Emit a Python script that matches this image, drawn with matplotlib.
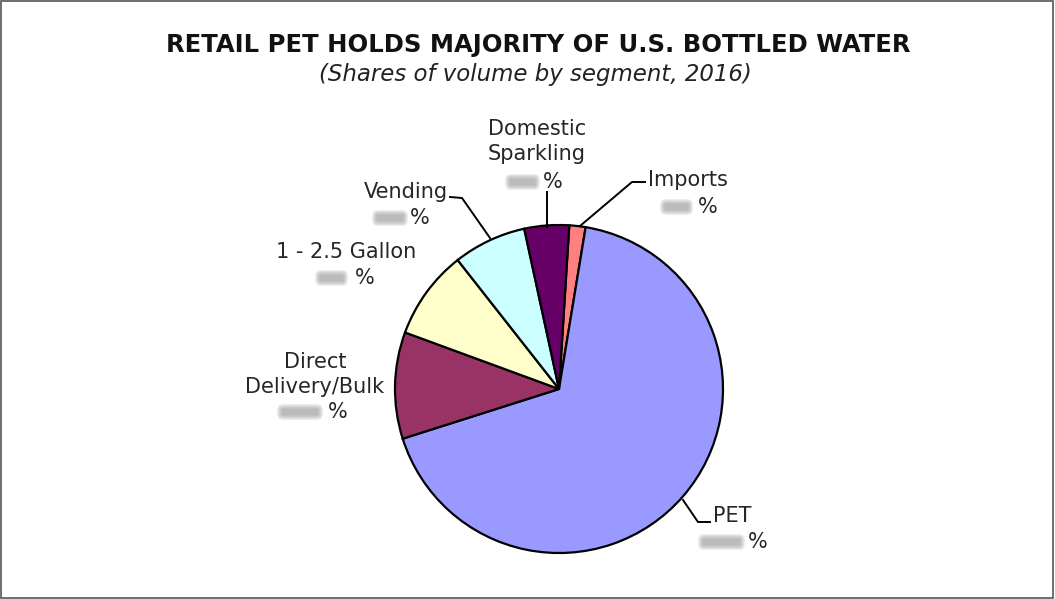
import matplotlib.pyplot as plt
from matplotlib.patches import Rectangle, FancyBboxPatch

# data (shares of volume, %; printed values are blurred in the source)
segments = ["Imports", "PET", "Direct\nDelivery/Bulk", "1 - 2.5 Gallon", "Vending", "Domestic\nSparkling"]
shares = [1.6, 67.5, 10.5, 8.8, 7.2, 4.4]
colors = ["#FF8080", "#9999FF", "#993366", "#FFFFCC", "#CCFFFF", "#660066"]

W, H = 1055, 599
fig = plt.figure(figsize=(W / 100, H / 100), dpi=100)
ax = fig.add_axes([0, 0, 1, 1])

def Y(py):
    return H - py

cx, cy, r = 559, 389, 164
ax.pie(shares, colors=colors, startangle=90 - 3.6, counterclock=False,
       center=(cx, Y(cy)), radius=r, frame=True,
       wedgeprops=dict(edgecolor="black", linewidth=1.6))
ax.set_xlim(0, W)
ax.set_ylim(0, H)
ax.set_aspect("equal")
ax.axis("off")

fig.text(538 / W, 1 - 45 / H, "RETAIL PET HOLDS MAJORITY OF U.S. BOTTLED WATER",
         ha="center", va="center", fontsize=17.5, fontweight="bold", color="#111111")
fig.text(535 / W, 1 - 75 / H, "(Shares of volume by segment, 2016)",
         ha="center", va="center", fontsize=16.5, style="italic", color="#222222")

# label layout: anchor x, first line y, alignment; percent sign position; blob extent
label_pos = [(648, 180, "left"), (713, 516, "left"), (315, 362, "center"),
             (346, 252, "center"), (448, 192, "right"), (537, 129, "center")]
value_pos = [(708, 207), (758, 542), (338, 412), (365, 278), (420, 218), (553, 182)]
blob_x = [(660, 693), (698, 745), (277, 323), (315, 348), (372, 408), (505, 540)]
line_gap = 25

for i, name in enumerate(segments):
    lx, ly, ha = label_pos[i]
    for j, line in enumerate(name.split("\n")):
        ax.text(lx, Y(ly + j * line_gap), line, ha=ha, va="center",
                fontsize=15, color="#262626")
    vx, vy = value_pos[i]
    ax.text(vx, Y(vy), "%", ha="center", va="center", fontsize=15, color="#262626")
    # blurred-out value: soft grey smudge built from stacked translucent boxes
    x0, x1 = blob_x[i]
    for pad in [6, 5, 4, 3, 2, 1]:
        ax.add_patch(FancyBboxPatch((x0 + 6, Y(vy) - 2), x1 - x0 - 12, 4,
                                    boxstyle=f"round,pad={pad}", fc="#9a9a9a",
                                    ec="none", alpha=0.16))

# leader lines
ax.plot([547, 547], [Y(192), Y(227)], color="black", lw=1.4)
ax.plot([645, 632, 580], [Y(182), Y(182), Y(226)], color="black", lw=1.4)
ax.plot([450, 462, 490], [Y(197), Y(198), Y(238)], color="black", lw=1.4)
ax.plot([683, 698, 710], [Y(500), Y(522), Y(522)], color="black", lw=1.4)

fig.add_artist(Rectangle((0.001, 0.002), 0.997, 0.996, transform=fig.transFigure,
                         fill=False, ec="#555555", lw=1.2))

fig.savefig("out.png", dpi=100)
